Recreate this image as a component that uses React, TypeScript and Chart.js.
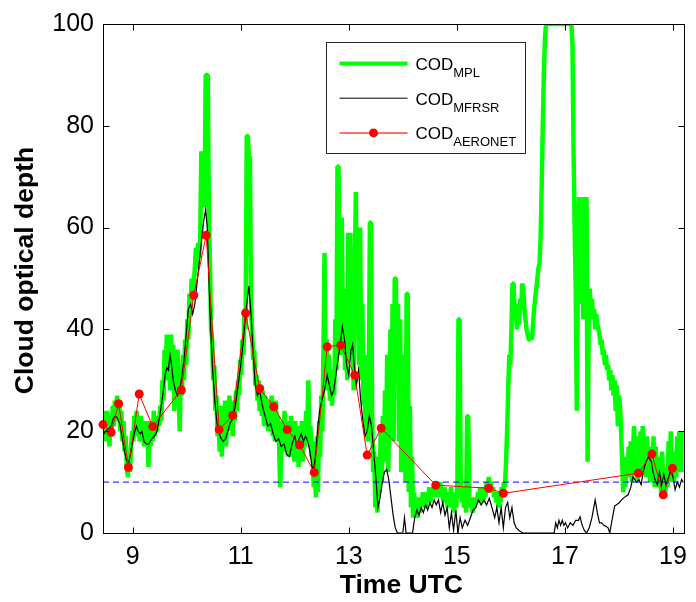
import React, { useEffect, useRef } from 'react';
import { Chart, registerables } from 'chart.js';

Chart.register(...registerables);

// Axis limits and tick marks
const X_MIN = 8.45;
const X_MAX = 19.2;
const X_TICKS = [9, 11, 13, 15, 17, 19];
const Y_TICKS = [0, 20, 40, 60, 80, 100];
const THRESHOLD = 10;

const X_TITLE = 'Time UTC';
const Y_TITLE = 'Cloud optical depth';

// Cloud optical depth from the micropulse lidar [hour UTC, COD]
const MPL: [number, number][] = [
  [8.45, 24], [8.47, 19], [8.49, 23], [8.51, 18], [8.53, 24], [8.55, 21], [8.57, 17], [8.59, 22], [8.61, 19], [8.63, 25],
  [8.65, 21], [8.67, 26], [8.69, 22], [8.71, 27], [8.73, 23], [8.75, 26], [8.77, 20], [8.79, 24], [8.81, 18], [8.83, 22],
  [8.85, 16], [8.87, 19], [8.89, 13], [8.91, 11], [8.93, 14], [8.95, 12], [8.97, 17], [8.99, 20], [9.01, 18], [9.03, 23],
  [9.05, 19], [9.07, 24], [9.09, 20], [9.11, 22], [9.13, 18], [9.15, 23], [9.17, 19], [9.19, 22], [9.21, 17], [9.23, 21],
  [9.25, 18], [9.27, 22], [9.29, 13], [9.31, 19], [9.33, 17], [9.35, 22], [9.37, 18], [9.39, 24], [9.41, 19], [9.43, 21],
  [9.45, 20], [9.47, 23], [9.49, 21], [9.51, 25], [9.53, 22], [9.55, 30], [9.57, 26], [9.59, 36], [9.61, 30], [9.63, 39],
  [9.65, 31], [9.67, 38], [9.69, 28], [9.71, 39], [9.73, 30], [9.75, 37], [9.77, 24], [9.79, 33], [9.81, 26], [9.83, 36],
  [9.85, 28], [9.87, 20], [9.89, 31], [9.91, 27], [9.93, 35], [9.95, 30], [9.97, 38], [9.99, 33],
  [10.01, 42], [10.03, 38], [10.05, 47], [10.07, 44], [10.09, 50], [10.11, 46], [10.13, 49], [10.15, 52], [10.17, 56], [10.19, 52],
  [10.21, 57], [10.23, 54], [10.25, 58], [10.27, 75], [10.29, 68], [10.31, 74], [10.33, 64], [10.35, 90], [10.37, 90], [10.39, 90],
  [10.41, 62], [10.43, 53], [10.45, 40], [10.47, 38], [10.49, 30], [10.51, 33], [10.53, 24], [10.55, 27], [10.57, 19], [10.59, 22],
  [10.61, 16], [10.63, 25], [10.65, 15], [10.67, 23], [10.69, 18], [10.71, 26], [10.73, 17], [10.75, 24], [10.77, 20], [10.79, 27],
  [10.81, 21], [10.83, 26], [10.85, 19], [10.87, 24], [10.89, 22], [10.91, 28], [10.93, 24], [10.95, 30], [10.97, 27], [10.99, 34],
  [11.01, 31], [11.03, 38], [11.05, 35], [11.07, 44], [11.09, 40], [11.11, 78], [11.13, 78], [11.15, 74], [11.17, 74], [11.19, 45],
  [11.21, 40], [11.23, 34], [11.25, 36], [11.27, 29], [11.29, 31], [11.31, 26], [11.33, 30], [11.35, 24], [11.37, 29], [11.39, 23],
  [11.41, 28], [11.43, 21], [11.45, 27], [11.47, 22], [11.49, 26], [11.51, 20], [11.53, 25], [11.55, 21], [11.57, 27], [11.59, 19],
  [11.61, 24], [11.63, 18], [11.65, 26], [11.67, 20], [11.69, 23], [11.71, 17], [11.73, 9], [11.75, 16], [11.77, 22], [11.79, 18],
  [11.81, 24], [11.83, 16], [11.85, 22], [11.87, 15], [11.89, 21], [11.91, 17], [11.93, 23], [11.95, 15], [11.97, 20], [11.99, 14],
  [12.01, 22], [12.03, 17], [12.05, 21], [12.07, 13], [12.09, 19], [12.11, 16], [12.13, 22], [12.15, 14], [12.17, 20], [12.19, 17],
  [12.21, 24], [12.23, 18], [12.25, 30], [12.27, 19], [12.29, 21], [12.31, 15], [12.33, 18], [12.35, 9], [12.37, 14], [12.39, 7],
  [12.41, 19], [12.43, 8], [12.45, 22], [12.47, 15], [12.49, 27], [12.51, 20], [12.53, 35], [12.55, 55], [12.57, 33], [12.59, 38],
  [12.61, 28], [12.63, 35], [12.65, 26], [12.67, 32], [12.69, 25], [12.71, 30], [12.73, 27], [12.75, 42], [12.77, 32], [12.79, 72],
  [12.81, 72], [12.83, 45], [12.85, 35], [12.87, 62], [12.89, 40], [12.91, 48], [12.93, 32], [12.95, 44], [12.97, 30], [12.99, 59],
  [13.01, 38], [13.03, 59], [13.05, 35], [13.07, 42], [13.09, 28], [13.11, 50], [13.13, 67], [13.15, 45], [13.17, 60], [13.19, 33],
  [13.21, 60], [13.23, 30], [13.25, 45], [13.27, 25], [13.29, 35], [13.31, 20], [13.33, 28], [13.35, 18], [13.37, 27], [13.39, 61],
  [13.41, 61], [13.43, 25], [13.45, 12], [13.47, 16], [13.49, 5], [13.51, 12], [13.53, 4], [13.55, 15], [13.57, 8], [13.59, 20],
  [13.61, 10], [13.63, 23], [13.65, 14], [13.67, 28], [13.69, 16], [13.71, 35], [13.73, 12], [13.75, 25], [13.77, 40], [13.79, 20],
  [13.81, 45], [13.83, 18], [13.85, 50], [13.87, 50], [13.89, 30], [13.91, 45], [13.93, 18], [13.95, 42], [13.97, 12], [13.99, 35],
  [14.01, 15], [14.03, 30], [14.05, 10], [14.07, 47], [14.09, 47], [14.11, 8], [14.13, 25], [14.15, 5], [14.17, 15], [14.19, 3],
  [14.21, 8], [14.23, 4], [14.25, 7], [14.27, 3], [14.29, 6], [14.31, 4], [14.33, 7], [14.35, 5], [14.37, 8], [14.39, 6],
  [14.41, 7], [14.43, 5], [14.45, 8], [14.47, 6], [14.49, 9], [14.51, 6], [14.53, 8], [14.55, 7], [14.57, 9], [14.59, 7],
  [14.61, 10], [14.63, 8], [14.65, 9], [14.67, 7], [14.69, 10], [14.71, 8], [14.73, 9], [14.75, 6], [14.77, 9], [14.79, 7],
  [14.81, 8], [14.83, 5], [14.85, 8], [14.87, 6], [14.89, 9], [14.91, 5], [14.93, 7], [14.95, 4], [14.97, 8], [14.99, 5],
  [15.01, 10], [15.03, 42], [15.05, 42], [15.07, 12], [15.09, 6], [15.11, 9], [15.13, 5], [15.15, 8], [15.17, 4], [15.19, 23],
  [15.21, 23], [15.23, 6], [15.25, 5], [15.27, 7], [15.29, 4], [15.31, 6], [15.33, 5], [15.35, 7], [15.37, 6], [15.39, 8],
  [15.41, 6], [15.43, 9], [15.45, 7], [15.47, 8], [15.49, 6], [15.51, 9], [15.53, 7], [15.55, 10], [15.57, 8], [15.59, 11],
  [15.61, 9], [15.63, 10], [15.65, 8], [15.67, 9], [15.69, 7], [15.71, 8], [15.73, 6], [15.75, 7], [15.77, 5], [15.79, 8],
  [15.81, 6], [15.83, 9], [15.85, 7], [15.87, 10], [15.89, 9], [15.91, 14], [15.93, 20], [15.95, 28], [15.97, 35], [15.99, 33],
  [16.01, 40], [16.03, 49], [16.05, 49], [16.07, 42], [16.09, 45], [16.11, 40], [16.13, 43], [16.15, 41], [16.17, 46], [16.19, 44],
  [16.21, 49], [16.23, 48], [16.25, 44], [16.27, 42], [16.29, 40], [16.31, 39], [16.33, 38], [16.35, 38], [16.37, 39], [16.39, 38],
  [16.41, 41], [16.43, 44], [16.45, 46], [16.47, 48], [16.49, 50], [16.51, 52], [16.53, 53], [16.55, 58], [16.57, 68], [16.59, 80],
  [16.61, 90], [16.63, 97], [16.65, 100], [16.9, 100], [17.12, 100], [17.14, 96], [17.16, 75], [17.18, 60], [17.2, 48], [17.22, 24],
  [17.24, 50], [17.26, 66], [17.28, 45], [17.3, 55], [17.32, 66], [17.34, 42], [17.36, 62], [17.38, 45], [17.4, 66], [17.42, 14],
  [17.44, 40], [17.46, 48], [17.48, 44], [17.5, 46], [17.52, 42], [17.54, 44], [17.56, 40], [17.58, 43], [17.6, 41], [17.62, 40],
  [17.64, 39], [17.66, 37], [17.68, 38], [17.7, 35], [17.72, 36], [17.74, 33], [17.76, 35], [17.78, 32], [17.8, 33], [17.82, 30],
  [17.84, 32], [17.86, 28], [17.88, 31], [17.9, 27], [17.92, 30], [17.94, 24], [17.96, 29], [17.98, 21], [18.0, 27], [18.02, 25],
  [18.04, 20], [18.06, 14], [18.08, 8], [18.1, 12], [18.12, 9], [18.14, 15], [18.16, 11], [18.18, 17], [18.2, 12], [18.22, 18],
  [18.24, 10], [18.26, 16], [18.28, 21], [18.3, 12], [18.32, 19], [18.34, 10], [18.36, 17], [18.38, 13], [18.4, 20], [18.42, 12],
  [18.44, 21], [18.46, 14], [18.48, 18], [18.5, 11], [18.52, 19], [18.54, 12], [18.56, 17], [18.58, 10], [18.6, 16], [18.62, 11],
  [18.64, 19], [18.66, 9], [18.68, 17], [18.7, 12], [18.72, 15], [18.74, 9], [18.76, 14], [18.78, 8], [18.8, 16], [18.82, 10],
  [18.84, 13], [18.86, 8], [18.88, 12], [18.9, 9], [18.92, 18], [18.94, 11], [18.96, 20], [18.98, 10], [19.0, 14], [19.02, 10],
  [19.04, 16], [19.06, 11], [19.08, 19], [19.1, 12], [19.12, 20], [19.14, 13], [19.16, 16], [19.18, 12], [19.2, 20],
];

// Cloud optical depth retrieved from MFRSR [hour UTC, COD]
const MFRSR: [number, number][] = [
  [8.45, 19.2], [8.5, 20], [8.55, 20.5], [8.6, 21], [8.64, 22.5], [8.68, 23], [8.72, 22.5], [8.76, 21.5], [8.8, 19], [8.84, 16.5],
  [8.88, 14.5], [8.92, 13.6], [8.96, 15.5], [9.0, 18], [9.04, 20], [9.07, 21], [9.1, 20], [9.14, 19.5], [9.17, 20], [9.21, 18],
  [9.25, 17.5], [9.3, 17.5], [9.35, 18.5], [9.4, 19], [9.45, 20], [9.5, 23], [9.55, 26.5], [9.6, 31], [9.63, 32.5], [9.66, 32],
  [9.69, 35], [9.72, 33], [9.75, 30], [9.79, 28], [9.83, 27], [9.87, 28], [9.91, 31], [9.95, 34], [9.99, 39], [10.03, 44],
  [10.07, 45], [10.11, 43], [10.15, 45], [10.19, 49], [10.23, 53], [10.27, 57], [10.31, 61], [10.35, 63.5], [10.38, 60], [10.41, 50],
  [10.44, 41], [10.48, 32], [10.52, 26], [10.56, 21.5], [10.6, 19.5], [10.64, 18.5], [10.68, 18], [10.72, 18.5], [10.76, 20], [10.8, 21.5],
  [10.85, 22.5], [10.9, 25], [10.95, 29], [11.0, 33], [11.05, 38], [11.1, 44], [11.15, 48.5], [11.19, 43], [11.23, 35], [11.27, 29],
  [11.31, 27], [11.35, 28], [11.4, 25], [11.45, 23], [11.5, 21], [11.55, 21.5], [11.6, 19.5], [11.65, 18], [11.7, 18.5], [11.75, 17],
  [11.8, 17.5], [11.85, 15.5], [11.9, 15], [11.95, 17.5], [12.0, 19], [12.04, 17], [12.08, 18.5], [12.12, 19.5], [12.16, 18], [12.2, 19],
  [12.24, 18], [12.28, 16], [12.32, 13], [12.35, 12.5], [12.38, 15], [12.42, 20], [12.46, 24], [12.5, 26], [12.55, 28], [12.6, 31],
  [12.64, 29], [12.68, 27], [12.72, 28], [12.76, 31], [12.8, 34], [12.84, 37], [12.88, 40.5], [12.92, 38], [12.96, 33], [13.0, 31],
  [13.04, 36], [13.07, 37], [13.1, 33], [13.14, 29], [13.18, 32], [13.22, 26], [13.26, 22], [13.3, 19], [13.34, 20], [13.38, 23],
  [13.42, 21], [13.46, 16], [13.5, 11], [13.54, 5], [13.58, 7], [13.62, 10], [13.66, 12], [13.7, 12.5], [13.74, 10.5], [13.78, 7],
  [13.82, 3.5], [13.86, 1], [13.9, 0], [14.0, 0], [14.03, 3], [14.06, 0], [14.18, 0], [14.22, 3], [14.26, 4.5], [14.3, 3.5],
  [14.34, 5], [14.38, 4], [14.42, 5.5], [14.46, 4.5], [14.5, 6], [14.54, 5], [14.58, 6.5], [14.62, 5.5], [14.66, 6.5], [14.7, 4],
  [14.74, 6], [14.78, 3.5], [14.82, 5], [14.86, 1], [14.9, 4], [14.94, 0.5], [14.98, 4.5], [15.02, 0], [15.06, 3], [15.1, 1],
  [15.15, 2.5], [15.2, 1.5], [15.25, 3], [15.3, 4.5], [15.35, 5], [15.4, 6.5], [15.45, 5.5], [15.5, 6.5], [15.55, 5.5], [15.6, 6.8],
  [15.65, 5], [15.7, 3], [15.74, 5], [15.78, 2], [15.82, 5], [15.86, 1], [15.9, 5], [15.94, 6], [15.98, 3], [16.02, 5],
  [16.06, 2], [16.1, 1], [16.15, 0.5], [16.22, 0], [16.8, 0], [16.83, 2], [16.86, 1], [16.89, 2.5], [16.92, 1.5], [16.95, 2.5],
  [16.98, 1.5], [17.01, 2], [17.05, 1], [17.1, 2], [17.15, 1.5], [17.2, 2.5], [17.25, 2.5], [17.28, 3.2], [17.32, 1.5], [17.36, 0.5],
  [17.4, 0], [17.45, 1], [17.5, 3], [17.56, 6.5], [17.6, 4], [17.64, 2], [17.68, 2], [17.72, 1.5], [17.76, 1.3], [17.8, 1],
  [17.83, 0], [17.88, 3], [17.92, 5.3], [18.0, 5.9], [18.05, 6.5], [18.1, 7], [18.17, 7.5], [18.22, 9], [18.26, 11], [18.3, 10.4],
  [18.33, 10], [18.37, 10.5], [18.41, 9.5], [18.45, 12], [18.5, 14], [18.55, 15], [18.6, 14], [18.63, 12], [18.67, 10.4], [18.71, 9.5],
  [18.75, 12], [18.79, 9.5], [18.83, 11.5], [18.87, 9.5], [18.92, 11], [18.96, 12.5], [19.0, 11], [19.04, 8.5], [19.08, 10], [19.12, 9],
  [19.16, 10.5], [19.19, 10],
];

// Cloud optical depth from AERONET cloud mode [hour UTC, COD]
const AERONET: [number, number][] = [
  [8.45, 21.3], [8.6, 19.8], [8.74, 25.4], [8.92, 12.9], [9.12, 27.3], [9.37, 20.9], [9.9, 28.1], [10.13, 46.7],
  [10.36, 58.5], [10.6, 20.3], [10.85, 23.1], [11.09, 43.2], [11.35, 28.4], [11.61, 24.8], [11.86, 20.3], [12.09, 17.3],
  [12.36, 11.9], [12.6, 36.6], [12.85, 36.9], [13.11, 31.0], [13.34, 15.3], [13.6, 20.6], [14.61, 9.4], [15.59, 8.8],
  [15.86, 7.8], [18.36, 11.75], [18.61, 15.5], [18.82, 7.5], [18.99, 12.7],
];

const FONT = "'Liberation Sans', Arial, Helvetica, sans-serif";

const LEGEND_ITEMS = [
  { sub: 'MPL', color: '#00ff00', width: 4, marker: false },
  { sub: 'MFRSR', color: '#000000', width: 1, marker: false },
  { sub: 'AERONET', color: '#ff4040', width: 1.5, marker: true },
];

const toPoints = (rows: [number, number][]) => rows.map(([x, y]) => ({ x, y }));

// Box around the axes with inward tick marks on all four sides
const framePlugin = {
  id: 'axesFrame',
  afterDatasetsDraw(chart: any) {
    const { ctx, chartArea: a, scales } = chart;
    ctx.save();
    ctx.strokeStyle = '#000';
    ctx.lineWidth = 1;
    const l = Math.round(a.left) + 0.5;
    const r = Math.round(a.right) + 0.5;
    const t = Math.round(a.top) + 0.5;
    const b = Math.round(a.bottom) + 0.5;
    ctx.strokeRect(l, t, r - l, b - t);
    const len = 6;
    ctx.beginPath();
    for (const v of X_TICKS) {
      const x = Math.round(scales.x.getPixelForValue(v)) + 0.5;
      ctx.moveTo(x, b);
      ctx.lineTo(x, b - len);
      ctx.moveTo(x, t);
      ctx.lineTo(x, t + len);
    }
    for (const v of Y_TICKS) {
      const y = Math.round(scales.y.getPixelForValue(v)) + 0.5;
      ctx.moveTo(l, y);
      ctx.lineTo(l + len, y);
      ctx.moveTo(r, y);
      ctx.lineTo(r - len, y);
    }
    ctx.stroke();
    ctx.restore();
  },
};

// Axis titles and the legend with subscripted labels
const labelsPlugin = {
  id: 'codLabels',
  afterDraw(chart: any) {
    const { ctx, chartArea: a } = chart;
    ctx.save();

    ctx.fillStyle = '#000';
    ctx.font = `bold 26.5px ${FONT}`;
    ctx.textAlign = 'center';
    ctx.textBaseline = 'middle';
    ctx.fillText(X_TITLE, (a.left + a.right) / 2 + 8, a.bottom + 53);
    ctx.save();
    ctx.translate(26, (a.top + a.bottom) / 2 - 8);
    ctx.rotate(-Math.PI / 2);
    ctx.fillText(Y_TITLE, 0, 0);
    ctx.restore();

    const bx = Math.round(a.left + 223) + 0.5;
    const by = Math.round(a.top + 18) + 0.5;
    const bw = 199;
    const bh = 111;
    ctx.fillStyle = '#ffffff';
    ctx.fillRect(bx, by, bw, bh);
    ctx.strokeStyle = '#262626';
    ctx.lineWidth = 1;
    ctx.strokeRect(bx, by, bw, bh);
    LEGEND_ITEMS.forEach((item, i) => {
      const y = by + 21 + i * 34.7;
      const x1 = bx + 13;
      const x2 = bx + 81;
      ctx.strokeStyle = item.color;
      ctx.lineWidth = item.width;
      ctx.beginPath();
      ctx.moveTo(x1, y);
      ctx.lineTo(x2, y);
      ctx.stroke();
      if (item.marker) {
        ctx.fillStyle = '#ff0000';
        ctx.beginPath();
        ctx.arc((x1 + x2) / 2, y, 4.5, 0, Math.PI * 2);
        ctx.fill();
      }
      ctx.fillStyle = '#000';
      ctx.textBaseline = 'alphabetic';
      ctx.textAlign = 'left';
      ctx.font = `17px ${FONT}`;
      const tx = bx + 89;
      const base = y + 6.3;
      ctx.fillText('COD', tx, base);
      const w = ctx.measureText('COD').width;
      ctx.font = `13px ${FONT}`;
      ctx.fillText(item.sub, tx + w, base + 7);
    });
    ctx.restore();
  },
};

export default function App() {
  const canvasRef = useRef<HTMLCanvasElement | null>(null);

  useEffect(() => {
    const canvas = canvasRef.current;
    if (!canvas) return;
    const chart = new Chart(canvas, {
      type: 'line',
      data: {
        datasets: [
          {
            label: 'COD AERONET',
            data: toPoints(AERONET),
            borderColor: '#ff0000',
            backgroundColor: '#ff0000',
            borderWidth: 1,
            pointRadius: 4.5,
            pointBorderWidth: 0,
            pointBackgroundColor: '#ff0000',
            clip: false as any,
            order: 0,
          },
          {
            label: 'threshold',
            data: [
              { x: X_MIN, y: THRESHOLD },
              { x: X_MAX, y: THRESHOLD },
            ],
            borderColor: '#0000ff',
            borderWidth: 1,
            borderDash: [6, 4],
            pointRadius: 0,
            order: 1,
          },
          {
            label: 'COD MFRSR',
            data: toPoints(MFRSR),
            borderColor: '#000000',
            borderWidth: 1.2,
            pointRadius: 0,
            clip: 0 as any,
            order: 2,
          },
          {
            label: 'COD MPL',
            data: toPoints(MPL),
            borderColor: '#00ff00',
            borderWidth: 4.5,
            borderJoinStyle: 'bevel',
            pointRadius: 0,
            clip: 0 as any,
            order: 3,
          },
        ],
      },
      options: {
        animation: false,
        responsive: false,
        devicePixelRatio: 1,
        layout: { padding: { left: 0, top: 19, right: 7, bottom: 0 }, autoPadding: false },
        plugins: { legend: { display: false }, tooltip: { enabled: false } },
        scales: {
          x: {
            type: 'linear',
            min: X_MIN,
            max: X_MAX,
            afterBuildTicks: (s: any) => {
              s.ticks = X_TICKS.map((v) => ({ value: v }));
            },
            afterFit: (s: any) => {
              s.height = 69;
            },
            ticks: {
              color: '#000',
              font: { family: FONT, size: 25 },
              padding: 9,
              maxRotation: 0,
              autoSkip: false,
            },
            grid: { display: false, drawTicks: false },
            border: { display: false },
            title: { display: false },
          },
          y: {
            type: 'linear',
            min: 0,
            max: 100,
            afterBuildTicks: (s: any) => {
              s.ticks = Y_TICKS.map((v) => ({ value: v }));
            },
            afterFit: (s: any) => {
              s.width = 103;
            },
            ticks: {
              color: '#000',
              font: { family: FONT, size: 25 },
              padding: 9,
              autoSkip: false,
            },
            grid: { display: false, drawTicks: false },
            border: { display: false },
            title: { display: false },
          },
        },
      },
      plugins: [framePlugin, labelsPlugin],
    });
    return () => chart.destroy();
  }, []);

  return (
    <div style={{ position: 'absolute', left: 0, top: 0, width: 696, height: 602, background: '#fff' }}>
      <canvas ref={canvasRef} width={696} height={602} style={{ display: 'block' }} />
    </div>
  );
}
